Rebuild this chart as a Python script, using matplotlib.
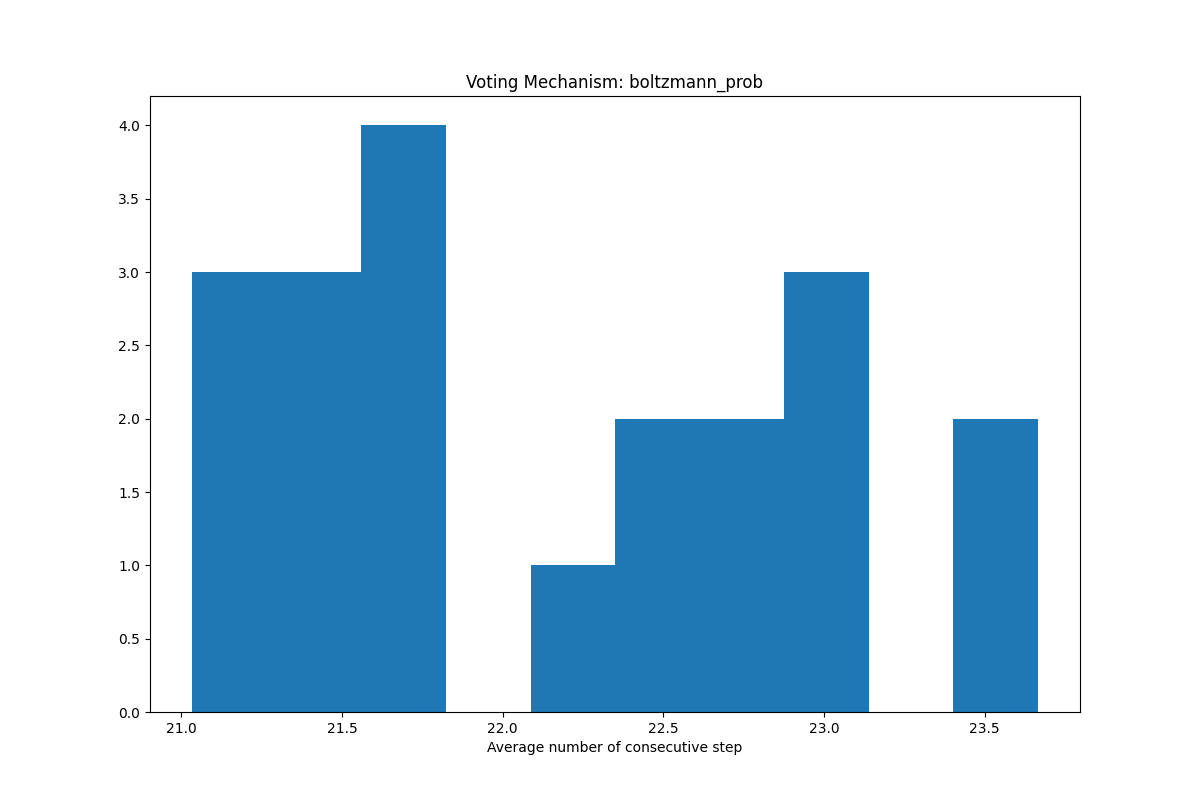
import matplotlib
matplotlib.use("Agg")
import matplotlib.pyplot as plt
import numpy as np

bin_edges = [21.034, 21.297, 21.560, 21.824, 22.087, 22.350, 22.613, 22.876, 23.139, 23.402, 23.665]
counts = [3, 3, 4, 0, 1, 2, 2, 3, 0, 2]

edges = np.array(bin_edges)
centers = (edges[:-1] + edges[1:]) / 2

fig, ax = plt.subplots(figsize=(12, 8), dpi=100)
ax.hist(centers, bins=edges, weights=counts, color="#1f77b4")
ax.set_title("Voting Mechanism: boltzmann_prob")
ax.set_xlabel("Average number of consecutive step")
fig.savefig("out.png")
